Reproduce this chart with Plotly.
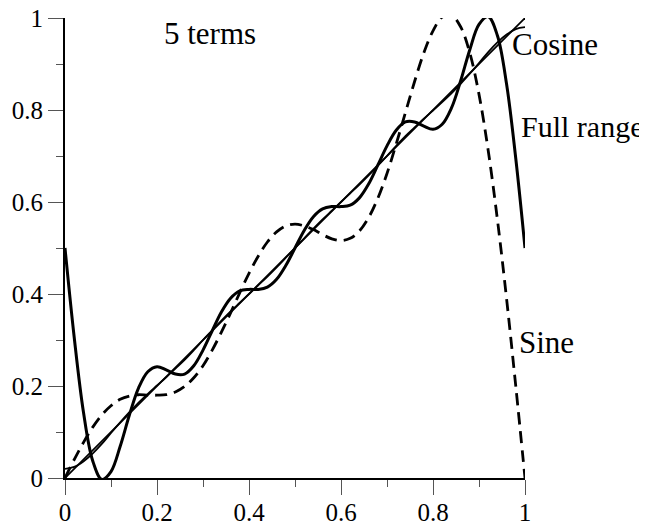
import plotly.graph_objects as go

# x positions of samples
x = [0.00, 0.02, 0.04, 0.06, 0.08, 0.10, 0.12, 0.14, 0.16, 0.18,
     0.20, 0.22, 0.24, 0.26, 0.28, 0.30, 0.32, 0.34, 0.36, 0.38,
     0.40, 0.42, 0.44, 0.46, 0.48, 0.50, 0.52, 0.54, 0.56, 0.58,
     0.60, 0.62, 0.64, 0.66, 0.68, 0.70, 0.72, 0.74, 0.76, 0.78,
     0.80, 0.82, 0.84, 0.86, 0.88, 0.90, 0.92, 0.94, 0.96, 0.98, 1.00]

full_range = [0.500, 0.306, 0.144, 0.038, -0.003, 0.014, 0.069, 0.137, 0.196, 0.231,
              0.242, 0.235, 0.226, 0.226, 0.244, 0.278, 0.320, 0.361, 0.391, 0.407,
              0.410, 0.410, 0.415, 0.432, 0.462, 0.500, 0.538, 0.568, 0.585, 0.590,
              0.590, 0.593, 0.609, 0.639, 0.680, 0.722, 0.756, 0.774, 0.774, 0.765,
              0.758, 0.769, 0.804, 0.863, 0.931, 0.986, 1.003, 0.962, 0.856, 0.694, 0.500]

sine = [0.000, 0.040, 0.077, 0.110, 0.137, 0.157, 0.171, 0.178, 0.181, 0.180,
        0.180, 0.181, 0.187, 0.199, 0.218, 0.244, 0.278, 0.317, 0.359, 0.403,
        0.445, 0.482, 0.513, 0.535, 0.548, 0.552, 0.548, 0.540, 0.529, 0.520,
        0.516, 0.521, 0.537, 0.566, 0.608, 0.662, 0.726, 0.794, 0.862, 0.924,
        0.972, 1.002, 1.006, 0.981, 0.924, 0.834, 0.712, 0.562, 0.389, 0.199, 0.000]

cosine = [0.020, 0.024, 0.036, 0.053, 0.074, 0.098, 0.121, 0.143, 0.164, 0.183,
          0.201, 0.219, 0.238, 0.257, 0.278, 0.300, 0.321, 0.342, 0.362, 0.381,
          0.400, 0.419, 0.438, 0.458, 0.479, 0.500, 0.521, 0.542, 0.562, 0.581,
          0.600, 0.619, 0.638, 0.658, 0.679, 0.700, 0.722, 0.743, 0.762, 0.781,
          0.799, 0.817, 0.836, 0.857, 0.879, 0.902, 0.926, 0.947, 0.964, 0.976, 0.980]

exact_x = [0.0, 1.0]
exact_y = [0.0, 1.0]

tick_vals = [0, 0.2, 0.4, 0.6, 0.8, 1]
tick_text = ["0", "0.2", "0.4", "0.6", "0.8", "1"]

FONT = "'Liberation Serif', Tinos, 'Times New Roman', Times, serif"

fig = go.Figure()
fig.add_trace(go.Scatter(x=exact_x, y=exact_y, mode="lines",
                         line=dict(color="black", width=1.8)))
fig.add_trace(go.Scatter(x=x, y=cosine, mode="lines",
                         line=dict(color="black", width=1.8, shape="spline")))
fig.add_trace(go.Scatter(x=x, y=sine, mode="lines",
                         line=dict(color="black", width=2.8, shape="spline", dash="12px,7px")))
fig.add_trace(go.Scatter(x=x, y=full_range, mode="lines",
                         line=dict(color="black", width=3, shape="spline")))

ann_font = dict(family=FONT, size=31, color="black")
fig.add_annotation(x=0.211, y=0.967, text="5 terms", showarrow=False,
                   xanchor="left", yanchor="middle", font=ann_font)
fig.add_annotation(x=0.968, y=0.943, text="Cosine", showarrow=False,
                   xanchor="left", yanchor="middle", font=ann_font)
fig.add_annotation(x=0.987, y=0.765, text="Full range", showarrow=False,
                   xanchor="left", yanchor="middle",
                   font=dict(family=FONT, size=30, color="black"))
fig.add_annotation(x=0.983, y=0.295, text="Sine", showarrow=False,
                   xanchor="left", yanchor="middle", font=ann_font)

axis_common = dict(
    range=[0, 1], showgrid=False, zeroline=False, automargin=False,
    showline=True, linecolor="black", linewidth=2,
    ticks="outside", ticklen=15, tickwidth=1, tickcolor="#555",
    tickvals=tick_vals, ticktext=tick_text, ticklabeloverflow="allow",
    tickfont=dict(family=FONT, size=25, color="black"),
    minor=dict(ticks="outside", ticklen=7, tickwidth=1, tickcolor="#555", dtick=0.1, showgrid=False),
)
fig.update_xaxes(**axis_common, ticklabelstandoff=-4)
fig.update_yaxes(**axis_common)

fig.update_layout(
    width=639, height=519,
    margin=dict(l=57, r=122, t=10, b=49),
    plot_bgcolor="white", paper_bgcolor="white",
    showlegend=False,
    font=dict(family=FONT),
)
fig.write_html("out.html")
